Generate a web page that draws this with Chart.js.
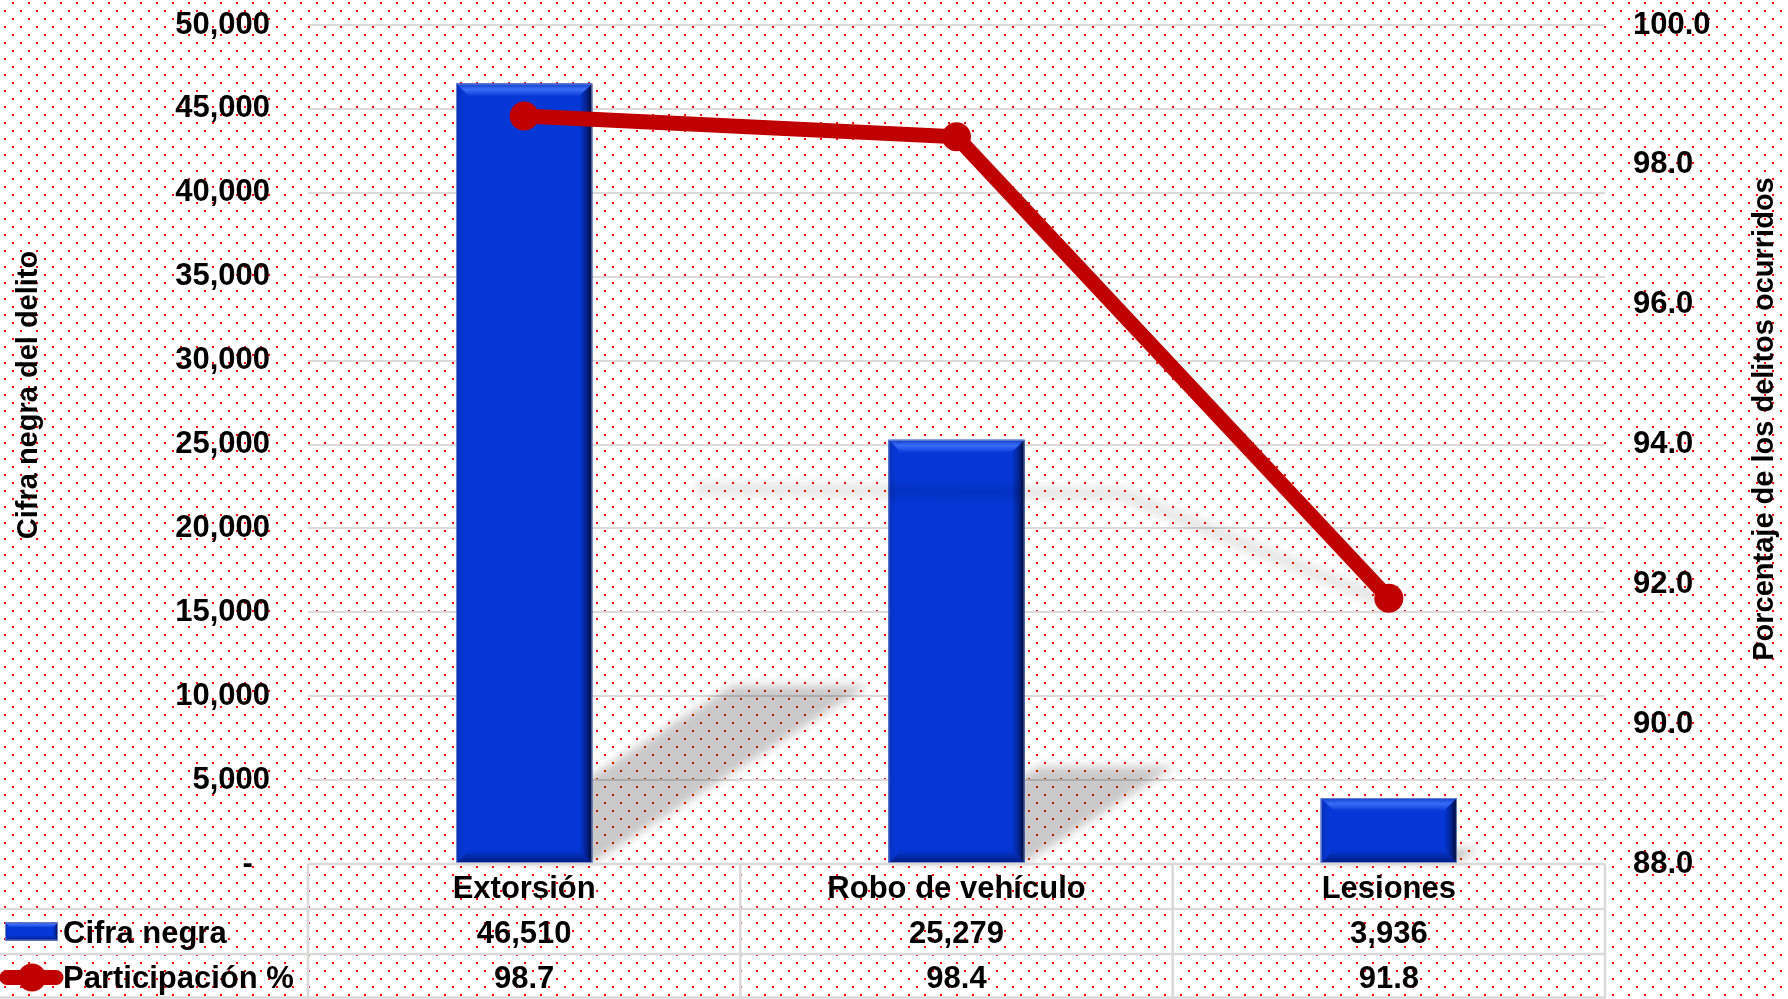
<!DOCTYPE html>
<html><head><meta charset="utf-8">
<script src="https://cdn.jsdelivr.net/npm/chart.js@4"></script>
<style>html,body{margin:0;padding:0;background:#fff;overflow:hidden}canvas{display:block}</style>
</head><body>
<canvas id="c" width="1788" height="999"></canvas>
<script>
// ---- data ----
const categories = ['Extorsión', 'Robo de vehículo', 'Lesiones'];
const cifraNegra = [46510, 25279, 3936];
const participacion = [98.7, 98.4, 91.8];
const seriesNames = ['Cifra negra', 'Participación %'];
const axisTitles = ['Cifra negra del delito', 'Porcentaje de los delitos ocurridos'];

const FONT = '"Liberation Sans", Arial, sans-serif';
const BLUE = '#0537d6';
const RED = '#c00000';
const GRID = '#d9d9d9';

function fmtInt(v) { return Number(v).toLocaleString('en-US'); }
function fmtPct(v) { return Number(v).toFixed(1); }

function poly(ctx, pts, fill) {
  ctx.beginPath();
  ctx.moveTo(pts[0][0], pts[0][1]);
  for (let i = 1; i < pts.length; i++) ctx.lineTo(pts[i][0], pts[i][1]);
  ctx.closePath();
  ctx.fillStyle = fill;
  ctx.fill();
}

function drawBevel(ctx, L, T, R, B, b) {
  let g;
  g = ctx.createLinearGradient(0, T, 0, T + b);
  g.addColorStop(0, '#0b3ccc'); g.addColorStop(0.45, '#3a6df6'); g.addColorStop(1, BLUE);
  poly(ctx, [[L, T], [R, T], [R - b, T + b], [L + b, T + b]], g);
  g = ctx.createLinearGradient(L, 0, L + b * 0.6, 0);
  g.addColorStop(0, '#0630b8'); g.addColorStop(1, BLUE);
  poly(ctx, [[L, T], [L + b * 0.6, T + b * 0.6], [L + b * 0.6, B - b * 0.6], [L, B]], g);
  g = ctx.createLinearGradient(0, B - b, 0, B);
  g.addColorStop(0, BLUE); g.addColorStop(1, '#011c82');
  poly(ctx, [[L, B], [R, B], [R - b, B - b], [L + b, B - b]], g);
  g = ctx.createLinearGradient(R - b, 0, R, 0);
  g.addColorStop(0, BLUE); g.addColorStop(0.55, '#02228f'); g.addColorStop(1, '#000a2c');
  poly(ctx, [[R, T], [R, B], [R - b, B - b], [R - b, T + b]], g);
  ctx.strokeStyle = 'rgba(120,140,200,0.9)';
  ctx.lineWidth = 1;
  ctx.strokeRect(L + 0.5, T + 0.5, R - L - 1, B - T - 1);
}

const bgPlugin = {
  id: 'bg',
  beforeDraw(chart) {
    const ctx = chart.ctx;
    ctx.save();
    ctx.fillStyle = '#ffffff';
    ctx.fillRect(0, 0, chart.width, chart.height);
    const tile = document.createElement('canvas');
    tile.width = 16; tile.height = 16;
    const t = tile.getContext('2d');
    t.fillStyle = '#ff0000';
    t.fillRect(12, 2, 2, 2);
    t.fillRect(4, 10, 2, 2);
    ctx.fillStyle = ctx.createPattern(tile, 'repeat');
    ctx.fillRect(0, 0, chart.width, chart.height);
    ctx.restore();
  }
};

const shadowPlugin = {
  id: 'shadows',
  beforeDatasetsDraw(chart) {
    const ctx = chart.ctx;
    const meta = chart.getDatasetMeta(0);
    ctx.save();
    ctx.filter = 'blur(5px)';
    meta.data.forEach(el => {
      const L = el.x - el.width / 2, R = el.x + el.width / 2;
      const B = el.base, h = el.base - el.y;
      const dx = 0.355 * h, dy = 0.228 * h;
      poly(ctx, [[L, B], [R, B], [R + dx, B - dy], [L + dx, B - dy]], 'rgba(0,0,0,0.21)');
    });
    ctx.restore();
  },
  afterDatasetDraw(chart, args) {
    if (args.index !== 0) return;
    const ctx = chart.ctx;
    ctx.save();
    args.meta.data.forEach(el => {
      const L = el.x - el.width / 2, R = el.x + el.width / 2;
      drawBevel(ctx, L, el.y, R, el.base, 13);
    });
    const pts = chart.getDatasetMeta(1).data;
    const bottom = Math.max(...pts.map(p => p.y)) + 8;
    ctx.filter = 'blur(4px)';
    ctx.strokeStyle = 'rgba(0,0,0,0.09)';
    ctx.lineWidth = 14;
    ctx.lineJoin = 'round';
    ctx.beginPath();
    pts.forEach((p, i) => {
      const h = bottom - p.y;
      const sx = p.x + 0.35 * h, sy = bottom - 0.24 * h;
      if (i === 0) ctx.moveTo(sx, sy); else ctx.lineTo(sx, sy);
    });
    ctx.stroke();
    ctx.restore();
  }
};

const tablePlugin = {
  id: 'table',
  afterDraw(chart) {
    const ctx = chart.ctx;
    const ca = chart.chartArea;
    const xs = chart.scales.x;
    const top = ca.bottom;
    const rowH = (chart.height - top) / 3;
    const colW = (ca.right - ca.left) / categories.length;
    ctx.save();
    ctx.strokeStyle = GRID;
    ctx.lineWidth = 2.5;
    ctx.beginPath();
    ctx.moveTo(ca.left, top); ctx.lineTo(ca.right, top);
    for (let r = 1; r <= 3; r++) {
      const y = Math.min(top + r * rowH, chart.height - 1.5);
      ctx.moveTo(0, y); ctx.lineTo(ca.right, y);
    }
    for (let c = 0; c <= categories.length; c++) {
      const x = ca.left + c * colW;
      ctx.moveTo(x, top); ctx.lineTo(x, chart.height);
    }
    ctx.stroke();
    ctx.fillStyle = '#000';
    ctx.font = 'bold 31px ' + FONT;
    ctx.textBaseline = 'middle';
    ctx.textAlign = 'center';
    const off = 2.5;
    categories.forEach((c, i) => {
      const x = xs.getPixelForValue(i);
      ctx.fillText(c, x, top + rowH * 0.5 + off);
      ctx.fillText(fmtInt(cifraNegra[i]), x, top + rowH * 1.5 + off);
      ctx.fillText(fmtPct(participacion[i]), x, top + rowH * 2.5 + off);
    });
    ctx.textAlign = 'left';
    ctx.fillText(seriesNames[0], 63, top + rowH * 1.5 + off);
    ctx.fillText(seriesNames[1], 63, top + rowH * 2.5 + off);
    const sy = top + rowH * 1.5 - 9;
    ctx.fillStyle = BLUE;
    ctx.fillRect(5, sy, 53, 18);
    drawBevel(ctx, 5, sy, 58, sy + 18, 5);
    const ly = top + rowH * 2.5 + 1;
    ctx.strokeStyle = RED;
    ctx.lineWidth = 15;
    ctx.lineCap = 'round';
    ctx.beginPath(); ctx.moveTo(7, ly); ctx.lineTo(56, ly); ctx.stroke();
    ctx.fillStyle = RED;
    ctx.beginPath(); ctx.arc(32, ly, 14, 0, Math.PI * 2); ctx.fill();
    ctx.fillStyle = '#000';
    ctx.font = 'bold 29px ' + FONT;
    ctx.textAlign = 'center';
    ctx.save();
    ctx.translate(28.5, 395); ctx.rotate(-Math.PI / 2);
    ctx.fillText(axisTitles[0], 0, 0);
    ctx.restore();
    ctx.save();
    ctx.translate(1765, 419); ctx.rotate(-Math.PI / 2);
    ctx.fillText(axisTitles[1], 0, 0);
    ctx.restore();
    ctx.restore();
  }
};

const tickFont = { family: FONT, size: 31, weight: 'bold' };

new Chart(document.getElementById('c'), {
  data: {
    labels: categories,
    datasets: [
      {
        type: 'bar', label: seriesNames[0], data: cifraNegra, yAxisID: 'y',
        backgroundColor: BLUE, borderWidth: 0, order: 2,
        barPercentage: 1, categoryPercentage: 0.315
      },
      {
        type: 'line', label: seriesNames[1], data: participacion, yAxisID: 'y1',
        borderColor: RED, borderWidth: 15, tension: 0,
        pointRadius: 14.5, pointHoverRadius: 14.5, pointBackgroundColor: RED,
        pointBorderWidth: 0, order: 1
      }
    ]
  },
  options: {
    responsive: false, animation: false, devicePixelRatio: 1,
    layout: { padding: { top: 25, bottom: 135, left: 0, right: 0 } },
    plugins: { legend: { display: false }, tooltip: { enabled: false } },
    events: [],
    scales: {
      x: { type: 'category', display: false, offset: true },
      y: {
        position: 'left', min: 0, max: 50000,
        ticks: {
          stepSize: 5000, padding: 38, color: '#000', font: tickFont,
          callback: v => v === 0 ? '-  ' : fmtInt(v)
        },
        grid: { color: GRID, lineWidth: 2, drawTicks: false },
        border: { display: false },
        afterFit(s) { s.width = 308; s.paddingTop = 0; s.paddingBottom = 0; }
      },
      y1: {
        position: 'right', min: 88, max: 100,
        ticks: { stepSize: 2, padding: 28, color: '#000', font: tickFont, callback: v => fmtPct(v) },
        grid: { drawOnChartArea: false, drawTicks: false },
        border: { display: false },
        afterFit(s) { s.width = 183; s.paddingTop = 0; s.paddingBottom = 0; }
      }
    }
  },
  plugins: [bgPlugin, shadowPlugin, tablePlugin]
});
</script>
</body></html>
